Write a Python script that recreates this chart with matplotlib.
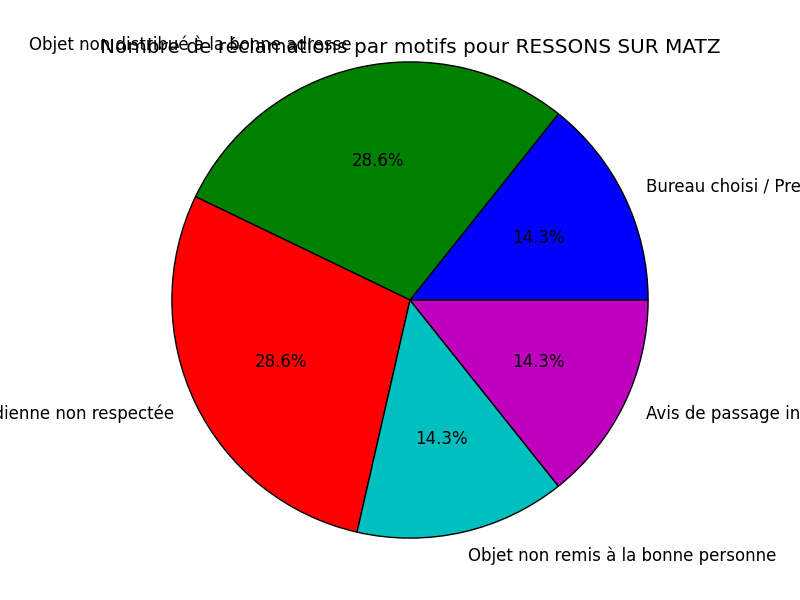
import matplotlib
matplotlib.use('Agg')
import matplotlib.pyplot as plt

# motifs de reclamation et nombre de reclamations
motifs = ['Bureau choisi / Presentation non respectée',
          'Objet non distribué à la bonne adresse',
          'Distribution quotidienne non respectée',
          'Objet non remis à la bonne personne',
          'Avis de passage injustifié']
nombres = [1, 2, 2, 1, 1]
couleurs = ['b', 'g', 'r', 'c', 'm']

plt.style.use('classic')
fig = plt.figure(figsize=(8, 6), dpi=100)
plt.pie(nombres, labels=motifs, colors=couleurs, autopct='%1.1f%%')
plt.axis('equal')
plt.ylim(-1.008, 1.008)
plt.title('Nombre de réclamations par motifs pour RESSONS SUR MATZ')
plt.savefig('out.png', dpi=100)
